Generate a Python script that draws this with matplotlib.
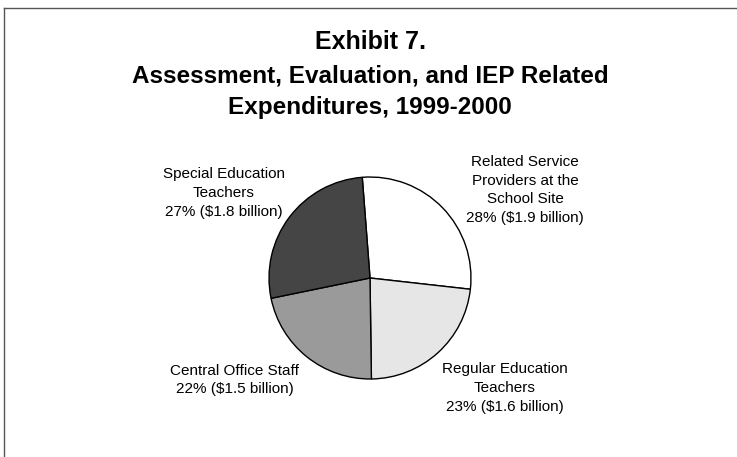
import matplotlib
matplotlib.use("Agg")
from matplotlib import pyplot as plt

plt.rcParams['font.family'] = ['Liberation Sans', 'DejaVu Sans']

categories = ["Related Service\nProviders at the\nSchool Site",
              "Regular Education\nTeachers",
              "Central Office Staff",
              "Special Education\nTeachers"]
shares = [28, 23, 22, 27]
billions = [1.9, 1.6, 1.5, 1.8]
colors = ["#ffffff", "#e6e6e6", "#9a9a9a", "#454545"]

W, H = 737, 457
fig = plt.figure(figsize=(W / 100, H / 100), dpi=100)

# pie placed by pixel center and radius
cx, cy, r = 370, 278, 103
ax = fig.add_axes([(cx - r) / W, 1 - (cy + r) / H, 2 * r / W, 2 * r / H])
ax.pie(shares, colors=colors, startangle=94.4, counterclock=False,
       radius=1, wedgeprops=dict(edgecolor="black", linewidth=1.0))
ax.set_xlim(-1.02, 1.02)
ax.set_ylim(-1.02, 1.02)
ax.set_aspect("equal")
ax.axis("off")

# labels, positions in pixels
label_pos = [(525, 190), (505, 388), (235, 380), (224, 193)]
for cat, s, b, (px, py) in zip(categories, shares, billions, label_pos):
    fig.text(px / W, 1 - py / H, f"{cat}\n{s}% (${b} billion)",
             ha="center", va="center", fontsize=11, linespacing=1.45)

fig.text(cx / W, 1 - 42 / H, "Exhibit 7.", ha="center", va="center",
         fontsize=18, fontweight="bold")
fig.text(cx / W, 1 - 92 / H,
         "Assessment, Evaluation, and IEP Related\nExpenditures, 1999-2000",
         ha="center", va="center", fontsize=17.5, fontweight="bold",
         linespacing=1.45)

# partial frame (left and top edges)
fig.add_artist(plt.Line2D([4 / W, 4 / W], [0, 1 - 8 / H], color="#555555", lw=1))
fig.add_artist(plt.Line2D([4 / W, 1], [1 - 8 / H, 1 - 8 / H], color="#555555", lw=1))

fig.savefig("out.png", dpi=100)
